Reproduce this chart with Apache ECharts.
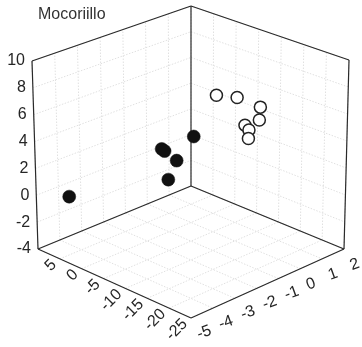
<!DOCTYPE html>
<html><head><meta charset="utf-8">
<script src="https://cdn.jsdelivr.net/npm/echarts@6/dist/echarts.min.js"></script>
<style>html,body{margin:0;padding:0;background:#fff}#c{width:362px;height:347px}</style>
</head><body><div id="c"></div>
<script>
const title = 'Mocoriillo';
const xTicks = [5, 0, -5, -10, -15, -20, -25];
const yTicks = [-5, -4, -3, -2, -1, 0, 1, 2];
const zTicks = [-4, -2, 0, 2, 4, 6, 8, 10];
const xRange = [10, -25];
const yRange = [-5, 2];
const zRange = [-4, 10];

const filledX = [6.05, -8.15, -4.45, -4.6, -5.8, -4.9];
const filledY = [-4.3, -1.5, -2.2, -2.1, -1.8, -2.0];
const filledZ = [0.0, 4.55, 3.6, 3.4, 2.65, 1.25];

const openX = [-10.2, -12.8, -15.0, -15.3, -13.6, -14.0, -13.4];
const openY = [-0.9, -0.5, 0.1, 0.0, -0.3, -0.2, -0.1];
const openZ = [7.48, 7.38, 6.55, 5.7, 5.3, 4.93, 4.15];

// frame geometry (screen corners of the 3D box)
const C = {
  L0: [38, 249], F0: [191, 318], B0: [191, 186], R0: [344, 249],
  L1: [32, 61], F1: [191, 121], B1: [191, 6], R1: [349, 60]
};
function proj(X, Y, Z) {
  const u = (xRange[0] - X) / (xRange[0] - xRange[1]);
  const v = (Y - yRange[0]) / (yRange[1] - yRange[0]);
  const w = (Z - zRange[0]) / (zRange[1] - zRange[0]);
  const bil = (a, b, c, d) => [0, 1].map(i =>
    (1 - u) * (1 - v) * a[i] + u * (1 - v) * b[i] + (1 - u) * v * c[i] + u * v * d[i]);
  const p0 = bil(C.L0, C.F0, C.B0, C.R0), p1 = bil(C.L1, C.F1, C.B1, C.R1);
  return [p0[0] * (1 - w) + p1[0] * w, p0[1] * (1 - w) + p1[1] * w];
}
const xmax = xRange[0], xmin = xRange[1], ymin = yRange[0], ymax = yRange[1], zmin = zRange[0], zmax = zRange[1];

const graphics = [];
const gridStyle = { stroke: '#e0e0e0', lineWidth: 1, lineDash: [1.5, 1.5] };
function seg(a, b, style, z) {
  graphics.push({ type: 'line', shape: { x1: a[0], y1: a[1], x2: b[0], y2: b[1] }, style: style, z: z, silent: true });
}
// floor grid
xTicks.forEach(x => seg(proj(x, ymin, zmin), proj(x, ymax, zmin), gridStyle, 1));
yTicks.forEach(y => seg(proj(xmax, y, zmin), proj(xmin, y, zmin), gridStyle, 1));
// left wall (X = xmax)
yTicks.forEach(y => seg(proj(xmax, y, zmin), proj(xmax, y, zmax), gridStyle, 1));
zTicks.forEach(z => seg(proj(xmax, ymin, z), proj(xmax, ymax, z), gridStyle, 1));
// right wall (Y = ymax)
xTicks.forEach(x => seg(proj(x, ymax, zmin), proj(x, ymax, zmax), gridStyle, 1));
zTicks.forEach(z => seg(proj(xmax, ymax, z), proj(xmin, ymax, z), gridStyle, 1));

// box edges
const edge = { stroke: '#2a2a2a', lineWidth: 1.2 };
const L0 = proj(xmax, ymin, zmin), F0 = proj(xmin, ymin, zmin), B0 = proj(xmax, ymax, zmin), R0 = proj(xmin, ymax, zmin);
const L1 = proj(xmax, ymin, zmax), B1 = proj(xmax, ymax, zmax), R1 = proj(xmin, ymax, zmax);
[[L0, F0], [F0, R0], [R0, B0], [B0, L0], [L0, L1], [B0, B1], [R0, R1], [L1, B1], [B1, R1]]
  .forEach(p => seg(p[0], p[1], edge, 2));

const font = '16px "Liberation Sans", Arial, sans-serif';
// Z labels
zTicks.forEach(z => {
  const p = proj(xmax, ymin, z);
  graphics.push({ type: 'text', x: p[0] - 7, y: p[1], silent: true, z: 3,
    style: { text: String(z), font: font, fill: '#262626', align: 'right', verticalAlign: 'middle' } });
});
// X labels
xTicks.forEach(x => {
  const p = proj(x, ymin, zmin);
  graphics.push({ type: 'text', x: p[0] - 6, y: p[1] + 3.5, rotation: Math.PI / 4, silent: true, z: 3,
    style: { text: String(x), font: font, fill: '#262626', align: 'right', verticalAlign: 'middle' } });
});
// Y labels
yTicks.forEach(y => {
  const p = proj(xmin, y, zmin);
  graphics.push({ type: 'text', x: p[0] + 6.5, y: p[1] + 17, rotation: 20 * Math.PI / 180, silent: true, z: 3,
    style: { text: String(y), font: font, fill: '#262626', align: 'left', verticalAlign: 'middle' } });
});
// title
graphics.push({ type: 'text', x: 38, y: 15, silent: true, z: 3,
  style: { text: title, font: '16px "Liberation Sans", Arial, sans-serif', fill: '#333', align: 'left', verticalAlign: 'middle' } });

const filledData = filledX.map((x, i) => [x, filledY[i], filledZ[i]]);
const openData = openX.map((x, i) => [x, openY[i], openZ[i]]);
function renderPoint(filled) {
  return function (params, api) {
    const p = proj(api.value(0), api.value(1), api.value(2));
    return {
      type: 'circle',
      shape: { cx: p[0], cy: p[1], r: filled ? 6.5 : 6 },
      style: filled ? { fill: '#111', stroke: '#111', lineWidth: 0.5 } : { fill: '#fff', stroke: '#222', lineWidth: 1.5 }
    };
  };
}

const chart = echarts.init(document.getElementById('c'), null, { renderer: 'canvas' });
chart.setOption({
  animation: false,
  graphic: { elements: graphics },
  series: [
    { type: 'custom', coordinateSystem: 'none', data: openData, renderItem: renderPoint(false), z: 5, silent: true },
    { type: 'custom', coordinateSystem: 'none', data: filledData, renderItem: renderPoint(true), z: 5, silent: true }
  ]
});
</script></body></html>
